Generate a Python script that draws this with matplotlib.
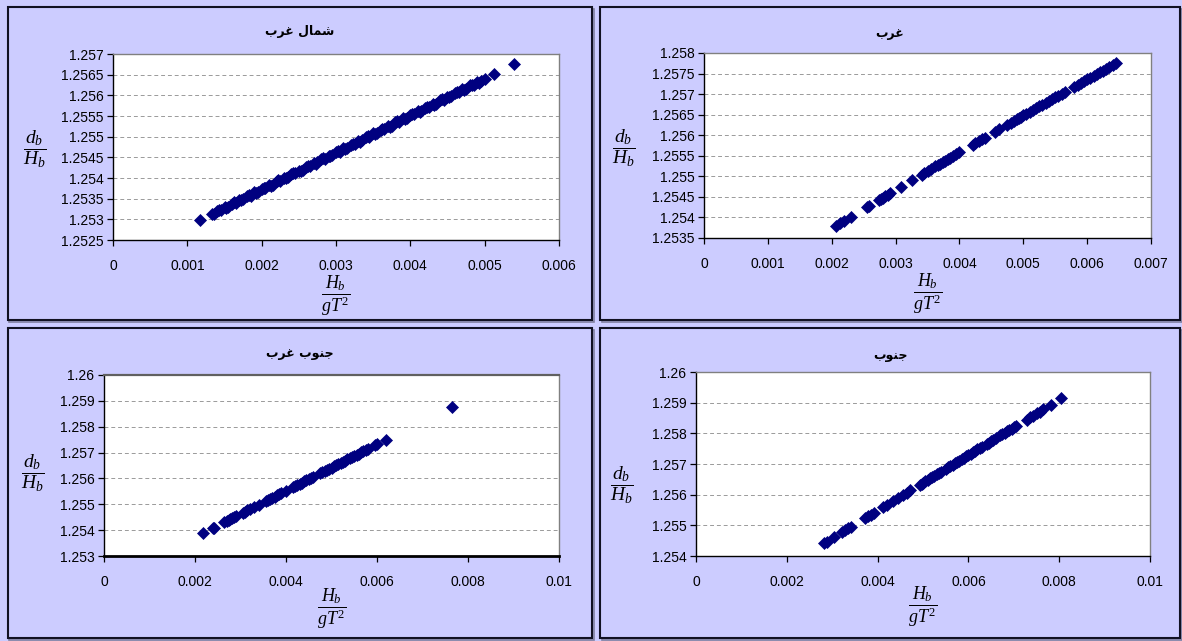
import numpy as np
import matplotlib
matplotlib.use('Agg')
import matplotlib.pyplot as plt
from matplotlib.patches import Rectangle
from matplotlib.ticker import FuncFormatter

W, H = 1182, 641

# ---------------- data ----------------
titles = ["شمال غرب", "غرب", "جنوب غرب", "جنوب"]

nw_x = [0.00117, 0.00133, 0.00136, 0.00140, 0.00145, 0.00150, 0.00155, 0.00160, 0.00165, 0.00170,
        0.00175, 0.00180, 0.00185, 0.00190, 0.00195, 0.00200, 0.00205, 0.00210, 0.00215, 0.00220,
        0.00225, 0.00230, 0.00235, 0.00240, 0.00245, 0.00250, 0.00255, 0.00260, 0.00265, 0.00270,
        0.00275, 0.00280, 0.00285, 0.00290, 0.00295, 0.00300, 0.00305, 0.00310, 0.00315, 0.00320,
        0.00325, 0.00330, 0.00335, 0.00340, 0.00345, 0.00350, 0.00355, 0.00360, 0.00365, 0.00370,
        0.00375, 0.00380, 0.00385, 0.00390, 0.00395, 0.00400, 0.00405, 0.00410, 0.00415, 0.00420,
        0.00425, 0.00430, 0.00435, 0.00440, 0.00445, 0.00450, 0.00455, 0.00460, 0.00465, 0.00470,
        0.00475, 0.00480, 0.00485, 0.00490, 0.00495, 0.00500, 0.00513, 0.00540,
        0.001425, 0.001525, 0.001625, 0.001725, 0.001825, 0.001925, 0.002025, 0.002125, 0.002225,
        0.002325, 0.002425, 0.002525, 0.002625, 0.002725, 0.002825, 0.002925, 0.003025, 0.003125,
        0.003225, 0.003325, 0.003425, 0.003525, 0.003625, 0.003725, 0.003825, 0.003925, 0.004025,
        0.004125, 0.004225, 0.004325, 0.004425, 0.004525, 0.004625, 0.004725, 0.004825, 0.004925]
nw_y = [1.25298, 1.25313, 1.25314, 1.25320, 1.25322, 1.25329, 1.25331, 1.25338, 1.25340, 1.25347,
        1.25349, 1.25356, 1.25357, 1.25365, 1.25366, 1.25374, 1.25375, 1.25383, 1.25384, 1.25392,
        1.25393, 1.25401, 1.25402, 1.25410, 1.25411, 1.25418, 1.25420, 1.25427, 1.25429, 1.25436,
        1.25438, 1.25445, 1.25446, 1.25454, 1.25455, 1.25463, 1.25464, 1.25472, 1.25473, 1.25481,
        1.25482, 1.25490, 1.25491, 1.25499, 1.25500, 1.25508, 1.25509, 1.25517, 1.25518, 1.25526,
        1.25527, 1.25535, 1.25536, 1.25544, 1.25545, 1.25552, 1.25554, 1.25561, 1.25563, 1.25570,
        1.25571, 1.25579, 1.25580, 1.25588, 1.25589, 1.25597, 1.25598, 1.25606, 1.25607, 1.25615,
        1.25616, 1.25624, 1.25625, 1.25633, 1.25634, 1.25640, 1.25651, 1.25675,
        1.25323, 1.25328, 1.25341, 1.25346, 1.25359, 1.25364, 1.25376, 1.25381, 1.25394,
        1.25399, 1.25412, 1.25417, 1.25430, 1.25435, 1.25448, 1.25453, 1.25466, 1.25470,
        1.25483, 1.25488, 1.25501, 1.25506, 1.25519, 1.25524, 1.25537, 1.25542, 1.25555,
        1.25560, 1.25572, 1.25577, 1.25590, 1.25595, 1.25608, 1.25613, 1.25626, 1.25631]

w_x = [0.00207, 0.00213, 0.00220, 0.00230, 0.00256, 0.00258, 0.00274, 0.00277, 0.00280, 0.00284,
       0.00288, 0.00292, 0.00309, 0.00325, 0.00341, 0.00345, 0.00350, 0.00356, 0.00362, 0.00366,
       0.00370, 0.00374, 0.00378, 0.00382, 0.00386, 0.00390, 0.00395, 0.00400, 0.00421, 0.00425,
       0.00430, 0.00435, 0.00440, 0.00455, 0.00462, 0.00475, 0.00480, 0.00485, 0.00490, 0.00493,
       0.00496, 0.00500, 0.00505, 0.00510, 0.00515, 0.00520, 0.00525, 0.00530, 0.00535, 0.00540,
       0.00545, 0.00550, 0.00555, 0.00560, 0.00565, 0.00580, 0.00585, 0.00590, 0.00595, 0.00600,
       0.00605, 0.00610, 0.00615, 0.00620, 0.00625, 0.00630, 0.00635, 0.00640, 0.00645]
w_y = [1.25380, 1.25386, 1.25392, 1.25401, 1.25425, 1.25427, 1.25442, 1.25445, 1.25448, 1.25451,
       1.25455, 1.25459, 1.25475, 1.25490, 1.25504, 1.25508, 1.25513, 1.25518, 1.25524, 1.25527,
       1.25531, 1.25535, 1.25538, 1.25542, 1.25545, 1.25549, 1.25554, 1.25558, 1.25577, 1.25581,
       1.25585, 1.25590, 1.25594, 1.25608, 1.25614, 1.25626, 1.25630, 1.25635, 1.25639, 1.25642,
       1.25644, 1.25648, 1.25652, 1.25657, 1.25661, 1.25666, 1.25670, 1.25674, 1.25679, 1.25683,
       1.25687, 1.25692, 1.25696, 1.25701, 1.25705, 1.25718, 1.25723, 1.25727, 1.25731, 1.25736,
       1.25740, 1.25744, 1.25749, 1.25753, 1.25757, 1.25762, 1.25766, 1.25771, 1.25775]

sw_x = [0.00217, 0.00240, 0.00242, 0.00264, 0.00270, 0.00275, 0.00278, 0.00282, 0.00286, 0.00290,
        0.00305, 0.00310, 0.00315, 0.00320, 0.00330, 0.00340, 0.00355, 0.00360, 0.00365, 0.00370,
        0.00375, 0.00380, 0.00385, 0.00390, 0.00400, 0.00415, 0.00420, 0.00425, 0.00430, 0.00435,
        0.00440, 0.00445, 0.00450, 0.00455, 0.00460, 0.00475, 0.00480, 0.00485, 0.00490, 0.00495,
        0.00500, 0.00505, 0.00510, 0.00515, 0.00520, 0.00525, 0.00530, 0.00535, 0.00540, 0.00545,
        0.00550, 0.00555, 0.00560, 0.00565, 0.00570, 0.00575, 0.00580, 0.00595, 0.00600, 0.00620,
        0.00764]
sw_y = [1.25388, 1.25409, 1.25410, 1.25430, 1.25436, 1.25440, 1.25443, 1.25446, 1.25450, 1.25454,
        1.25467, 1.25472, 1.25476, 1.25481, 1.25490, 1.25499, 1.25512, 1.25517, 1.25521, 1.25526,
        1.25530, 1.25535, 1.25539, 1.25544, 1.25553, 1.25566, 1.25571, 1.25575, 1.25580, 1.25584,
        1.25589, 1.25593, 1.25598, 1.25602, 1.25607, 1.25620, 1.25624, 1.25629, 1.25633, 1.25638,
        1.25642, 1.25647, 1.25651, 1.25656, 1.25660, 1.25665, 1.25669, 1.25674, 1.25678, 1.25683,
        1.25687, 1.25692, 1.25696, 1.25701, 1.25705, 1.25710, 1.25714, 1.25728, 1.25732, 1.25750,
        1.25875]

s_x = [0.00282, 0.00288, 0.00305, 0.00322, 0.00328, 0.00335, 0.00342, 0.00373, 0.00378, 0.00385,
       0.00392, 0.00412, 0.00420, 0.00435, 0.00445, 0.00455, 0.00465, 0.00472, 0.00493, 0.00497,
       0.00500, 0.00505, 0.00510, 0.00515, 0.00520, 0.00525, 0.00530, 0.00535, 0.00540, 0.00550,
       0.00555, 0.00560, 0.00565, 0.00570, 0.00575, 0.00580, 0.00585, 0.00590, 0.00595, 0.00600,
       0.00605, 0.00610, 0.00615, 0.00620, 0.00625, 0.00630, 0.00640, 0.00645, 0.00650, 0.00655,
       0.00660, 0.00670, 0.00675, 0.00680, 0.00685, 0.00690, 0.00695, 0.00700, 0.00705, 0.00728,
       0.00735, 0.00742, 0.00750, 0.00757, 0.00765, 0.00782, 0.00805]
s_y = [1.25442, 1.25447, 1.25463, 1.25478, 1.25484, 1.25490, 1.25496, 1.25524, 1.25529, 1.25535,
       1.25541, 1.25560, 1.25567, 1.25580, 1.25589, 1.25598, 1.25607, 1.25614, 1.25633, 1.25636,
       1.25639, 1.25644, 1.25648, 1.25653, 1.25657, 1.25662, 1.25666, 1.25671, 1.25675, 1.25684,
       1.25689, 1.25693, 1.25698, 1.25702, 1.25707, 1.25711, 1.25716, 1.25720, 1.25725, 1.25729,
       1.25734, 1.25739, 1.25743, 1.25748, 1.25752, 1.25757, 1.25766, 1.25770, 1.25775, 1.25779,
       1.25784, 1.25793, 1.25797, 1.25802, 1.25806, 1.25811, 1.25815, 1.25820, 1.25824, 1.25845,
       1.25852, 1.25858, 1.25865, 1.25871, 1.25879, 1.25894, 1.25915]

nw_xticks = [0, 0.001, 0.002, 0.003, 0.004, 0.005, 0.006]
nw_yticks = [1.2525, 1.253, 1.2535, 1.254, 1.2545, 1.255, 1.2555, 1.256, 1.2565, 1.257]
w_xticks = [0, 0.001, 0.002, 0.003, 0.004, 0.005, 0.006, 0.007]
w_yticks = [1.2535, 1.254, 1.2545, 1.255, 1.2555, 1.256, 1.2565, 1.257, 1.2575, 1.258]
sw_xticks = [0, 0.002, 0.004, 0.006, 0.008, 0.01]
sw_yticks = [1.253, 1.254, 1.255, 1.256, 1.257, 1.258, 1.259, 1.26]
s_xticks = [0, 0.002, 0.004, 0.006, 0.008, 0.01]
s_yticks = [1.254, 1.255, 1.256, 1.257, 1.258, 1.259, 1.26]

y_label = r'$\dfrac{d_b}{H_b}$'
x_label = r'$\dfrac{H_b}{gT^2}$'

# ---------------- style ----------------
BG = '#CCCCFF'
MARK = '#000080'
plt.rcParams['font.family'] = ['Liberation Sans', 'DejaVu Sans']
plt.rcParams['mathtext.fontset'] = 'custom'
plt.rcParams['mathtext.it'] = 'Liberation Serif:italic'
plt.rcParams['mathtext.rm'] = 'Liberation Serif'
plt.rcParams['mathtext.bf'] = 'Liberation Serif:bold'


def shape_arabic(text):
    """Minimal contextual shaping + visual ordering for the Arabic title letters."""
    forms = {
        'ب': ('\uFE8F', '\uFE90', '\uFE91', '\uFE92'),
        'ج': ('\uFE9D', '\uFE9E', '\uFE9F', '\uFEA0'),
        'ر': ('\uFEAD', '\uFEAE', None, None),
        'ش': ('\uFEB5', '\uFEB6', '\uFEB7', '\uFEB8'),
        'غ': ('\uFECD', '\uFECE', '\uFECF', '\uFED0'),
        'ل': ('\uFEDD', '\uFEDE', '\uFEDF', '\uFEE0'),
        'م': ('\uFEE1', '\uFEE2', '\uFEE3', '\uFEE4'),
        'ن': ('\uFEE5', '\uFEE6', '\uFEE7', '\uFEE8'),
        'و': ('\uFEED', '\uFEEE', None, None),
        'ا': ('\uFE8D', '\uFE8E', None, None),
    }
    out = []
    for i, ch in enumerate(text):
        if ch not in forms:
            out.append(ch)
            continue
        prev = text[i - 1] if i > 0 else None
        nxt = text[i + 1] if i + 1 < len(text) else None
        jp = prev in forms and forms[prev][2] is not None
        jn = nxt in forms and forms[ch][2] is not None
        if jp and jn:
            out.append(forms[ch][3])
        elif jp:
            out.append(forms[ch][1])
        elif jn:
            out.append(forms[ch][2])
        else:
            out.append(forms[ch][0])
    return ''.join(reversed(out))


fig = plt.figure(figsize=(W / 100, H / 100), dpi=100, facecolor=BG)


def fr(x0, y0, x1, y1):
    return [x0 / W, 1 - y1 / H, (x1 - x0) / W, (y1 - y0) / H]


def fmt(v, pos=None):
    if abs(v) < 1e-12:
        return '0'
    return '{:.6g}'.format(v)


panels = [
    dict(box=(8, 7, 592, 320), ax=(113, 54, 559, 240), x=nw_x, y=nw_y,
         xt=nw_xticks, yt=nw_yticks, title_y=32, yl=(35, 149), xl_y=296, thick=False),
    dict(box=(600, 7, 1180, 320), ax=(704, 53, 1151, 238), x=w_x, y=w_y,
         xt=w_xticks, yt=w_yticks, title_y=33, yl=(624, 148), xl_y=294, thick=False),
    dict(box=(8, 328, 592, 638), ax=(104, 375, 559, 556), x=sw_x, y=sw_y,
         xt=sw_xticks, yt=sw_yticks, title_y=353, yl=(33, 473), xl_y=609, thick=True),
    dict(box=(600, 328, 1180, 638), ax=(696, 372, 1150, 556), x=s_x, y=s_y,
         xt=s_xticks, yt=s_yticks, title_y=355, yl=(622, 485), xl_y=607, thick=False),
]

for p, title in zip(panels, titles):
    bx0, by0, bx1, by1 = p['box']
    # shadow + border of the chart area (behind the axes)
    fig.patches.append(Rectangle(((bx0 + 1.5) / W, 1 - (by1 + 1.5) / H), (bx1 - bx0) / W, (by1 - by0) / H,
                                 transform=fig.transFigure, facecolor='none',
                                 edgecolor='#8080a0', lw=1.2, zorder=-3))
    fig.patches.append(Rectangle((bx0 / W, 1 - by1 / H), (bx1 - bx0) / W, (by1 - by0) / H,
                                 transform=fig.transFigure, facecolor=BG,
                                 edgecolor='#111122', lw=1.5, zorder=-2))

    ax = fig.add_axes(fr(*p['ax']))
    ax.set_zorder(1)
    ax.set_facecolor('white')
    ax.plot(p['x'], p['y'], linestyle='none', marker='D', markersize=5.8,
            color=MARK, markeredgewidth=0.5, zorder=3, clip_on=False)
    ax.set_xticks(p['xt'])
    ax.set_yticks(p['yt'])
    ax.set_xlim(p['xt'][0], p['xt'][-1])
    ax.set_ylim(p['yt'][0], p['yt'][-1])
    ax.xaxis.set_major_formatter(FuncFormatter(fmt))
    ax.yaxis.set_major_formatter(FuncFormatter(fmt))
    ax.tick_params(axis='both', direction='out', length=4, width=0.9, colors='black',
                   labelsize=10, pad=3)
    ax.tick_params(axis='x', pad=9.5)
    ax.set_axisbelow(True)
    ax.yaxis.grid(True, linestyle=(0, (4, 3)), color='#9a9a9a', linewidth=0.7)
    for side in ('top', 'right'):
        ax.spines[side].set_color('#808080')
        ax.spines[side].set_linewidth(1.0)
    for side in ('left', 'bottom'):
        ax.spines[side].set_color('black')
        ax.spines[side].set_linewidth(1.0)
    if p['thick']:
        ax.spines['bottom'].set_linewidth(2.0)
        ax.spines['top'].set_linewidth(1.6)
        ax.spines['top'].set_color('#606060')

    fig.text(((bx0 + bx1) / 2) / W, 1 - p['title_y'] / H, shape_arabic(title),
             family='DejaVu Sans', weight='bold', fontsize=9, ha='center', va='center')
    fig.text(p['yl'][0] / W, 1 - p['yl'][1] / H, y_label, fontsize=14,
             ha='center', va='center')
    axc = (p['ax'][0] + p['ax'][2]) / 2
    fig.text(axc / W, 1 - p['xl_y'] / H, x_label, fontsize=13,
             ha='center', va='center')

fig.savefig('out.png', dpi=100, facecolor=BG)
